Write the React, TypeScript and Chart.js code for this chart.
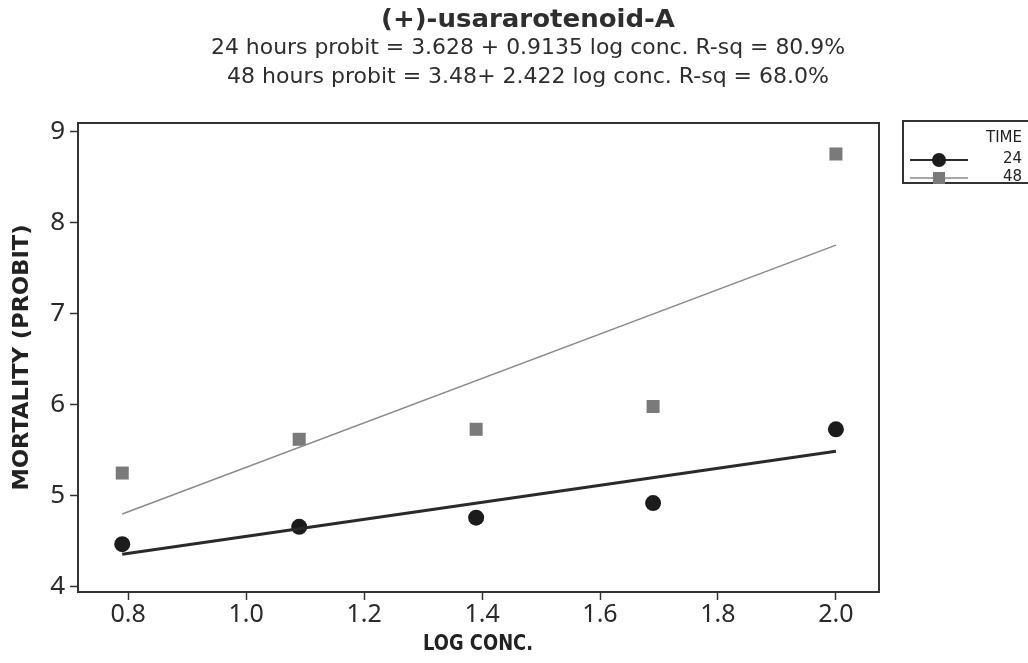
import React, { useEffect, useRef } from "react";
import { Chart, registerables } from "chart.js";

Chart.register(...registerables);

const logConc = [0.79, 1.09, 1.39, 1.69, 2.0];
const probit24 = [4.47, 4.66, 4.76, 4.92, 5.73];
const probit48 = [5.25, 5.62, 5.73, 5.98, 8.75];
const fitX = [0.79, 2.0];
const fit24 = [4.36, 5.49];
const fit48 = [4.8, 7.75];
const xTicks = [0.8, 1.0, 1.2, 1.4, 1.6, 1.8, 2.0];
const yTicks = [4, 5, 6, 7, 8, 9];
const titleText = "(+)-usararotenoid-A";
const subtitleLines = [
  "24 hours probit = 3.628 + 0.9135 log conc. R-sq = 80.9%",
  "48 hours probit = 3.48+ 2.422 log conc. R-sq = 68.0%",
];
const xTitle = "LOG CONC.";
const yTitle = "MORTALITY (PROBIT)";
const legendTitle = "TIME";
const seriesNames = ["24", "48"];

const C24 = "#1c1c1c";
const C48 = "#7a7a7a";
const L24 = "#2a2a2a";
const L48 = "#8a8a8a";
const FONT = "'DejaVu Sans', 'Noto Sans', sans-serif";
const TICKFONT = "'Noto Sans', 'DejaVu Sans', sans-serif";

function fitText(
  ctx: CanvasRenderingContext2D,
  text: string,
  x: number,
  y: number,
  width: number,
  font: string,
  rotate = false
) {
  ctx.save();
  ctx.font = font;
  ctx.textAlign = "center";
  ctx.textBaseline = "middle";
  const w = ctx.measureText(text).width;
  ctx.translate(x, y);
  if (rotate) ctx.rotate(-Math.PI / 2);
  ctx.scale(width / w, 1);
  ctx.fillText(text, 0, 0);
  ctx.restore();
}

const decorPlugin = {
  id: "decor",
  afterDraw(chart: any) {
    const ctx = chart.ctx as CanvasRenderingContext2D;
    const a = chart.chartArea;
    ctx.save();
    // plot frame
    ctx.strokeStyle = "#333";
    ctx.lineWidth = 2;
    ctx.strokeRect(a.left, a.top, a.right - a.left, a.bottom - a.top);

    // titles
    ctx.fillStyle = "#2e2e2e";
    fitText(ctx, titleText, 528, 20, 294, `bold 25px ${FONT}`);
    fitText(ctx, subtitleLines[0], 528, 49, 634, `21px ${FONT}`);
    fitText(ctx, subtitleLines[1], 528, 78, 602, `21px ${FONT}`);

    // axis titles
    ctx.fillStyle = "#222";
    fitText(ctx, xTitle, 478, 645, 110, `bold 21px ${FONT}`);
    fitText(ctx, yTitle, 23, (a.top + a.bottom) / 2, 266, `bold 21px ${FONT}`, true);

    // legend
    ctx.strokeStyle = "#333";
    ctx.lineWidth = 2;
    ctx.strokeRect(903, 121, 140, 62);
    ctx.textAlign = "right";
    ctx.textBaseline = "middle";
    ctx.font = `15px ${FONT}`;
    ctx.fillStyle = "#222";
    ctx.fillText(legendTitle, 1022, 138);
    ctx.fillText(seriesNames[0], 1022, 159);
    ctx.fillText(seriesNames[1], 1022, 177);
    // 24 symbol
    ctx.strokeStyle = L24;
    ctx.lineWidth = 2;
    ctx.beginPath();
    ctx.moveTo(910, 160);
    ctx.lineTo(968, 160);
    ctx.stroke();
    ctx.fillStyle = C24;
    ctx.beginPath();
    ctx.arc(939, 160, 7, 0, Math.PI * 2);
    ctx.fill();
    // 48 symbol
    ctx.strokeStyle = L48;
    ctx.lineWidth = 1.5;
    ctx.beginPath();
    ctx.moveTo(910, 178);
    ctx.lineTo(968, 178);
    ctx.stroke();
    ctx.fillStyle = C48;
    ctx.fillRect(933, 172, 12, 12);
    ctx.restore();
  },
};

export default function App() {
  const ref = useRef<HTMLCanvasElement | null>(null);
  useEffect(() => {
    if (!ref.current) return;
    const chart = new Chart(ref.current, {
      type: "scatter",
      data: {
        datasets: [
          {
            label: seriesNames[0] + " fit",
            data: fitX.map((x, i) => ({ x, y: fit24[i] })),
            showLine: true,
            borderColor: L24,
            borderWidth: 3,
            pointRadius: 0,
          },
          {
            label: seriesNames[1] + " fit",
            data: fitX.map((x, i) => ({ x, y: fit48[i] })),
            showLine: true,
            borderColor: L48,
            borderWidth: 1.5,
            pointRadius: 0,
          },
          {
            label: seriesNames[0],
            data: logConc.map((x, i) => ({ x, y: probit24[i] })),
            pointStyle: "circle",
            pointRadius: 8,
            backgroundColor: C24,
            borderColor: C24,
            borderWidth: 0,
          },
          {
            label: seriesNames[1],
            data: logConc.map((x, i) => ({ x, y: probit48[i] })),
            pointStyle: "rect",
            pointRadius: 9.2,
            backgroundColor: C48,
            borderColor: C48,
            borderWidth: 0,
          },
        ],
      },
      options: {
        animation: false,
        responsive: false,
        maintainAspectRatio: false,
        layout: { padding: { left: 0, right: 1028 - 879, top: 123, bottom: 0 } },
        plugins: {
          legend: { display: false },
          tooltip: { enabled: false },
          title: { display: false },
        },
        scales: {
          x: {
            type: "linear",
            min: 0.715,
            max: 2.073,
            afterBuildTicks: (s: any) => {
              s.ticks = xTicks.map((v) => ({ value: v }));
            },
            afterFit: (s: any) => {
              s.height = 663 - 592;
            },
            grid: {
              drawOnChartArea: false,
              drawTicks: true,
              tickLength: 8,
              tickWidth: 1.5,
              tickColor: "#333",
            },
            border: { display: false },
            ticks: {
              font: { family: TICKFONT, size: 25 },
              color: "#2a2a2a",
              padding: 0,
              maxRotation: 0,
              autoSkip: false,
              callback: (v: any) => Number(v).toFixed(1),
            },
          },
          y: {
            type: "linear",
            min: 3.945,
            max: 9.09,
            afterBuildTicks: (s: any) => {
              s.ticks = yTicks.map((v) => ({ value: v }));
            },
            afterFit: (s: any) => {
              s.width = 78;
            },
            grid: {
              drawOnChartArea: false,
              drawTicks: true,
              tickLength: 8,
              tickWidth: 1.5,
              tickColor: "#333",
            },
            border: { display: false },
            ticks: {
              font: { family: TICKFONT, size: 26 },
              color: "#2a2a2a",
              padding: 5,
              autoSkip: false,
              callback: (v: any) => String(v),
            },
          },
        },
      },
      plugins: [decorPlugin],
    } as any);
    return () => chart.destroy();
  }, []);
  return (
    <div style={{ position: "fixed", left: 0, top: 0, width: 1028, height: 663, background: "#fff" }}>
      <canvas ref={ref} width={1028} height={663} style={{ display: "block" }} />
    </div>
  );
}
